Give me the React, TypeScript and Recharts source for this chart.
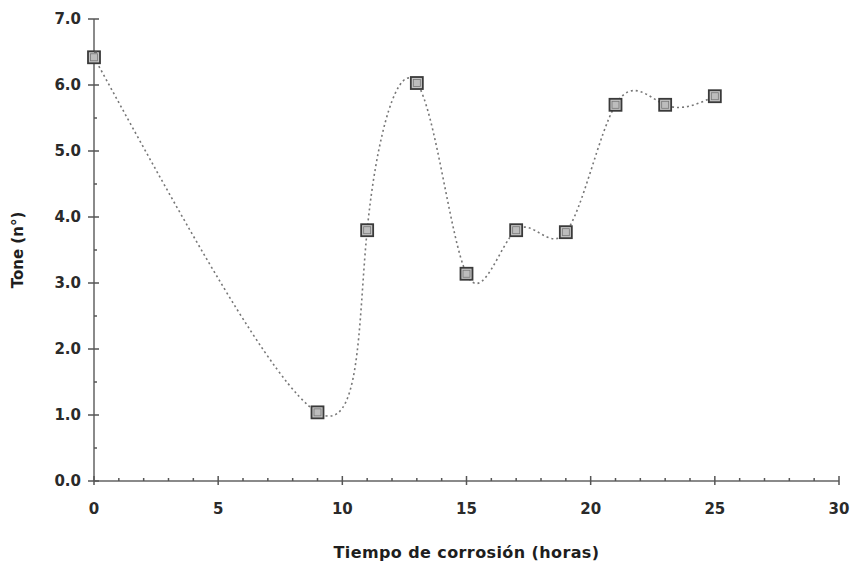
import React from 'react';
import { LineChart, Line, XAxis, YAxis, Label } from 'recharts';

// hours of corrosion vs tone
const hours = [0, 9, 11, 13, 15, 17, 19, 21, 23, 25];
const tone = [6.42, 1.04, 3.8, 6.03, 3.14, 3.8, 3.77, 5.7, 5.7, 5.83];

const xTicks = [0, 1, 2, 3, 4, 5, 6, 7, 8, 9, 10, 11, 12, 13, 14, 15, 16, 17, 18, 19, 20, 21, 22, 23, 24, 25, 26, 27, 28, 29, 30];
const xMajor = [0, 5, 10, 15, 20, 25, 30];
const yTicks = [0, 0.5, 1, 1.5, 2, 2.5, 3, 3.5, 4, 4.5, 5, 5.5, 6, 6.5, 7];
const yMajor = [0, 1, 2, 3, 4, 5, 6, 7];

const data = hours.map((h, i) => ({ h, v: tone[i] }));

const axisColor = '#8a8a8a';
const font = '"DejaVu Sans", sans-serif';

const XTick = (props: any) => {
  const { x, y, payload } = props;
  const major = xMajor.includes(payload.value);
  return (
    <g>
      {major ? (
        <line x1={x} x2={x} y1={y - 5} y2={y + 4} stroke="#555" strokeWidth={1.5} />
      ) : (
        <line x1={x} x2={x} y1={y - 3} y2={y} stroke="#555" strokeWidth={1.5} />
      )}
      {major && (
        <text x={x} y={y + 33} textAnchor="middle" fontSize={15} fontWeight="bold" fill="#2a2a2a" fontFamily={font}>
          {payload.value}
        </text>
      )}
    </g>
  );
};

const YTick = (props: any) => {
  const { x, y, payload } = props;
  const major = yMajor.includes(payload.value);
  return (
    <g>
      {major ? (
        <line x1={x - 6} x2={x + 5} y1={y} y2={y} stroke="#555" strokeWidth={1.5} />
      ) : (
        <line x1={x} x2={x + 3} y1={y} y2={y} stroke="#555" strokeWidth={1.5} />
      )}
      {major && (
        <text x={x - 13} y={y + 5} textAnchor="end" fontSize={15} fontWeight="bold" fill="#2a2a2a" fontFamily={font}>
          {payload.value.toFixed(1)}
        </text>
      )}
    </g>
  );
};

const SquareDot = (props: any) => {
  const { cx, cy } = props;
  if (cx == null || cy == null) return null;
  return (
    <g>
      <rect x={cx - 6} y={cy - 6} width={12} height={12} fill="#c4c4c4" stroke="#3a3a3a" strokeWidth={1.8} />
      <rect x={cx - 3.5} y={cy - 3.5} width={7} height={7} fill="#bdbdbd" stroke="#777" strokeWidth={0.8} />
    </g>
  );
};

export default function App() {
  return (
    <div style={{ position: 'absolute', left: 0, top: 0, width: 851, height: 568, background: '#fff' }}>
      <LineChart width={851} height={568} data={data} margin={{ top: 19, right: 12, bottom: 0, left: 0 }}>
        <XAxis
          dataKey="h"
          type="number"
          domain={[0, 30]}
          ticks={xTicks}
          interval={0}
          tickLine={false}
          tickSize={0}
          tickMargin={0}
          axisLine={{ stroke: axisColor, strokeWidth: 2 }}
          tick={<XTick />}
          height={87}
        >
          <Label
            value="Tiempo de corrosión (horas)"
            position="insideBottom"
            offset={10}
            style={{ fontSize: 16, fontWeight: 'bold', fill: '#1e1e1e', fontFamily: font, letterSpacing: 0.4 }}
          />
        </XAxis>
        <YAxis
          type="number"
          domain={[0, 7]}
          ticks={yTicks}
          interval={0}
          tickLine={false}
          tickSize={0}
          tickMargin={0}
          axisLine={{ stroke: axisColor, strokeWidth: 2 }}
          tick={<YTick />}
          width={94}
        >
          <Label
            value="Tone (n°)"
            angle={-90}
            position="insideLeft"
            offset={18}
            style={{ fontSize: 15, fontWeight: 'bold', fill: '#1e1e1e', fontFamily: font, textAnchor: 'middle' }}
          />
        </YAxis>
        <Line
          dataKey="v"
          type="natural"
          stroke="#777"
          strokeWidth={1.6}
          strokeDasharray="2 3"
          dot={<SquareDot />}
          activeDot={false}
          isAnimationActive={false}
        />
      </LineChart>
    </div>
  );
}
